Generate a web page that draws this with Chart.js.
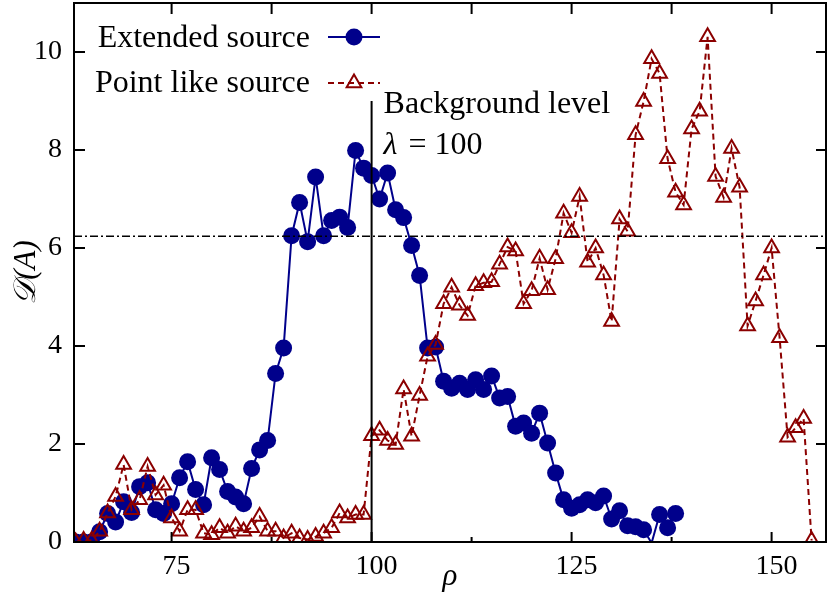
<!DOCTYPE html>
<html>
<head>
<meta charset="utf-8">
<script src="https://cdn.jsdelivr.net/npm/chart.js@4.4.0/dist/chart.umd.min.js"></script>
<style>
  html, body { margin: 0; padding: 0; background: #fff; }
</style>
</head>
<body>
<canvas id="chart" width="830" height="598"></canvas>
<script>
// rho positions of the two series
const rhoExtended = [63, 64, 65, 66, 67, 68, 69, 70, 71, 72, 73, 74, 75, 76, 77, 78, 79, 80, 81, 82,
  83, 84, 85, 86, 87, 88, 89, 90, 91, 92, 93, 94, 95, 96, 97, 98, 99, 100, 101, 102,
  103, 104, 105, 106, 107, 108, 109, 110, 111, 112, 113, 114, 115, 116, 117, 118, 119, 120, 121, 122,
  123, 124, 125, 126, 127, 128, 129, 130, 131, 132, 133, 134, 135, 136, 137, 138];
const extendedValues = [0, 0, 0, 0.21, 0.58, 0.41, 0.82, 0.60, 1.13, 1.21,
  0.66, 0.58, 0.78, 1.31, 1.64, 1.07, 0.76, 1.72, 1.48, 1.03,
  0.92, 0.78, 1.50, 1.88, 2.07, 3.44, 3.96, 6.25, 6.93, 6.13,
  7.45, 6.25, 6.56, 6.63, 6.42, 7.99, 7.63, 7.48, 7.00, 7.53,
  6.78, 6.62, 6.05, 5.44, 3.96, 3.98, 3.28, 3.14, 3.24, 3.11,
  3.31, 3.11, 3.39, 2.94, 2.97, 2.36, 2.43, 2.22, 2.63, 2.02,
  1.41, 0.86, 0.69, 0.76, 0.86, 0.80, 0.94, 0.47, 0.64, 0.33,
  0.31, 0.25, -0.02, 0.56, 0.29, 0.58];

const rhoPoint = [63, 64, 65, 66, 67, 68, 69, 70, 71, 72, 73, 74, 75, 76, 77, 78, 79, 80, 81, 82,
  83, 84, 85, 86, 87, 88, 89, 90, 91, 92, 93, 94, 95, 96, 97, 98, 99, 100, 101, 102,
  103, 104, 105, 106, 107, 108, 109, 110, 111, 112, 113, 114, 115, 116, 117, 118, 119, 120, 121, 122,
  123, 124, 125, 126, 127, 128, 129, 130, 131, 132, 133, 134, 135, 136, 137, 138, 139, 140, 141, 142,
  143, 144, 145, 146, 147, 148, 149, 150, 151, 152, 153, 154, 155];
const pointValues = [0, 0.03, 0.03, 0.22, 0.59, 0.93, 1.58, 0.66, 0.86, 1.54,
  0.96, 1.16, 0.49, 0.22, 0.66, 0.66, 0.18, 0.15, 0.29, 0.18,
  0.32, 0.22, 0.29, 0.52, 0.22, 0.22, 0.08, 0.18, 0.08, 0.05,
  0.11, 0.18, 0.29, 0.59, 0.49, 0.56, 0.56, 2.17, 2.28, 2.07,
  1.99, 3.12, 2.16, 2.99, 3.79, 4.03, 4.86, 5.20, 4.83, 4.62,
  5.23, 5.29, 5.31, 5.67, 6.02, 5.94, 4.86, 5.13, 5.79, 5.15,
  5.78, 6.71, 6.31, 7.05, 5.71, 6.00, 5.45, 4.50, 6.59, 6.34,
  8.31, 8.99, 9.86, 9.56, 7.82, 7.14, 6.88, 8.43, 8.79, 10.31,
  7.46, 7.03, 8.03, 7.24, 4.41, 4.92, 5.45, 6.00, 4.17, 2.14,
  2.33, 2.52, 0.03];

const xTicks = [75, 100, 125, 150];
const xMinorTicks = [87.5, 112.5, 137.5];
const yTicks = [0, 2, 4, 6, 8, 10];

const backgroundLevel = 6.24;
const lambdaRho = 100;
const lambdaLineTop = 9.0;

const BLUE = '#00008b';
const RED = '#8b0000';
const SERIF = '"Liberation Serif", "DejaVu Serif", serif';

const toPoints = (xs, ys) => xs.map((x, i) => ({ x: x, y: ys[i] }));

const decorations = {
  id: 'decorations',
  afterDatasetsDraw(chart) {
    const { ctx, chartArea: a, scales: { x, y } } = chart;
    ctx.save();
    ctx.strokeStyle = '#000';
    // background level
    ctx.lineWidth = 1.5;
    ctx.setLineDash([8, 3, 2, 3]);
    const yb = y.getPixelForValue(backgroundLevel);
    ctx.beginPath();
    ctx.moveTo(a.left, yb);
    ctx.lineTo(a.right, yb);
    ctx.stroke();
    ctx.setLineDash([]);
    // lambda marker
    ctx.lineWidth = 2;
    const xl = x.getPixelForValue(lambdaRho);
    ctx.beginPath();
    ctx.moveTo(xl, y.getPixelForValue(0));
    ctx.lineTo(xl, y.getPixelForValue(lambdaLineTop));
    ctx.stroke();

    ctx.fillStyle = '#000';
    ctx.textAlign = 'left';
    ctx.textBaseline = 'alphabetic';
    ctx.font = '32px ' + SERIF;
    ctx.fillText('Background level', xl + 12, 113);
    ctx.font = 'italic 32px ' + SERIF;
    ctx.fillText('\u03bb', xl + 12, 154);
    const lw = ctx.measureText('\u03bb').width;
    ctx.font = '32px ' + SERIF;
    ctx.fillText(' = 100', xl + 12 + lw + 3, 154);
    ctx.restore();
  },
  afterDraw(chart) {
    const { ctx, chartArea: a, scales: { x, y } } = chart;
    ctx.save();
    ctx.strokeStyle = '#000';
    ctx.lineWidth = 2;
    ctx.strokeRect(a.left, a.top, a.right - a.left, a.bottom - a.top);
    ctx.beginPath();
    xTicks.concat(xMinorTicks).forEach(v => {
      const px = x.getPixelForValue(v);
      const len = xTicks.includes(v) ? 10 : 5;
      ctx.moveTo(px, a.bottom);
      ctx.lineTo(px, a.bottom - len);
      ctx.moveTo(px, a.top);
      ctx.lineTo(px, a.top + 11);
    });
    yTicks.forEach(v => {
      const py = y.getPixelForValue(v);
      ctx.moveTo(a.left, py);
      ctx.lineTo(a.left + 11, py);
      ctx.moveTo(a.right, py);
      ctx.lineTo(a.right - 10, py);
    });
    ctx.stroke();

    // legend, drawn from the datasets
    const rows = [{ textY: 47, lineY: 37 }, { textY: 92, lineY: 83 }];
    chart.data.datasets.forEach((ds, i) => {
      const r = rows[i];
      ctx.fillStyle = '#000';
      ctx.font = '32px ' + SERIF;
      ctx.textAlign = 'right';
      ctx.textBaseline = 'alphabetic';
      ctx.fillText(ds.label, 310, r.textY);
      ctx.strokeStyle = ds.borderColor;
      ctx.lineWidth = ds.borderWidth;
      ctx.setLineDash(ds.borderDash || []);
      ctx.beginPath();
      ctx.moveTo(328, r.lineY);
      ctx.lineTo(380, r.lineY);
      ctx.stroke();
      ctx.setLineDash([]);
      ctx.fillStyle = ds.pointBackgroundColor;
      ctx.strokeStyle = ds.borderColor;
      ctx.lineWidth = ds.pointBorderWidth;
      Chart.helpers.drawPoint(ctx, {
        pointStyle: ds.pointStyle, radius: 8.5, rotation: 0, borderWidth: ds.pointBorderWidth
      }, 354, r.lineY);
    });
    ctx.restore();
  }
};

new Chart(document.getElementById('chart'), {
  type: 'line',
  data: {
    datasets: [
      {
        label: 'Extended source',
        data: toPoints(rhoExtended, extendedValues),
        borderColor: BLUE,
        backgroundColor: BLUE,
        pointBackgroundColor: BLUE,
        borderWidth: 2,
        pointStyle: 'circle',
        pointRadius: c => (c.raw && c.raw.y < 0 ? 0 : 8.5),
        pointBorderWidth: 0,
        order: 2
      },
      {
        label: 'Point like source',
        data: toPoints(rhoPoint, pointValues),
        borderColor: RED,
        backgroundColor: RED,
        pointBackgroundColor: 'rgba(0,0,0,0)',
        borderWidth: 2,
        borderDash: [6, 4],
        pointStyle: 'triangle',
        pointRadius: 8.5,
        pointBorderWidth: 2,
        order: 1
      }
    ]
  },
  options: {
    responsive: false,
    animation: false,
    layout: { autoPadding: false, padding: { top: 3, right: 4, left: 0, bottom: 0 } },
    plugins: { legend: { display: false }, tooltip: { enabled: false } },
    scales: {
      x: {
        type: 'linear',
        min: 62.8,
        max: 156.8,
        afterBuildTicks: s => { s.ticks = xTicks.map(v => ({ value: v })); },
        afterFit: s => { s.height = 56; s.paddingLeft = 0; s.paddingRight = 0; },
        grid: { display: false, drawTicks: false },
        border: { display: false },
        ticks: {
          autoSkip: false, maxRotation: 0, color: '#000', padding: 8, labelOffset: 5,
          font: { family: SERIF, size: 28 }
        },
        title: {
          display: true, text: '\u03c1', color: '#000',
          font: { family: SERIF, size: 31, style: 'italic' },
          padding: { top: 0, bottom: 3 }
        }
      },
      y: {
        type: 'linear',
        min: 0,
        max: 11,
        afterBuildTicks: s => { s.ticks = yTicks.map(v => ({ value: v })); },
        afterFit: s => { s.width = 74; s.paddingTop = 0; s.paddingBottom = 0; },
        grid: { display: false, drawTicks: false },
        border: { display: false },
        ticks: {
          autoSkip: false, color: '#000', padding: 12,
          font: { family: SERIF, size: 28 }
        },
        title: {
          display: true, text: '\ud835\udc9f(A)', color: '#000',
          font: { family: SERIF, size: 31, style: 'italic' },
          padding: { top: 8, bottom: 0 }
        }
      }
    }
  },
  plugins: [decorations]
});
</script>
</body>
</html>
